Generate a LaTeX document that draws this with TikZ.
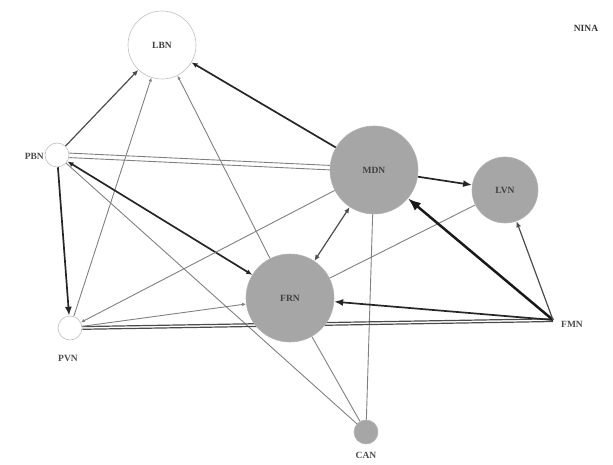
\documentclass[tikz,border=0pt]{standalone}
\usepackage{fontspec}
\setmainfont{Liberation Serif}
\usetikzlibrary{arrows.meta,backgrounds}
\begin{document}
\begin{tikzpicture}[x=1pt,y=-1pt,
  netnode/.style={circle,inner sep=0pt,font=\fontsize{9.5}{10}\selectfont\bfseries,text=black!75},
  whitenode/.style={netnode,fill=white,draw=black!25,line width=0.6pt},
  graynode/.style={netnode,fill=black!35,draw=black!30,line width=0.6pt},
  lab/.style={font=\fontsize{9.5}{10}\selectfont\bfseries,text=black!70,inner sep=1pt},
  tinyhead/.style={-{Latex[length=4pt,width=3.5pt]}},
  smallhead/.style={-{Latex[length=6pt,width=5pt]}},
  midhead/.style={-{Latex[length=9pt,width=7pt]}},
  bighead/.style={-{Latex[length=13pt,width=10pt]}},
  faint/.style={draw=black!50,line width=0.9pt},
  medium/.style={draw=black!70,line width=1.2pt},
  strong/.style={draw=black!85,line width=1.7pt},
  heavy/.style={draw=black!90,line width=2.5pt}]
\useasboundingbox (0,0) rectangle (613,465);
\node[whitenode,minimum size=68pt] (LBN) at (162,45) {LBN};
\node[whitenode,minimum size=24pt] (PBN) at (57,155) {};
\node[lab,anchor=east] (PBNl) at (45,156) {PBN};
\node[whitenode,minimum size=24pt] (PVN) at (70,328) {};
\node[lab] (PVNl) at (68,358) {PVN};
\node[graynode,minimum size=88pt] (MDN) at (374,170) {MDN};
\node[graynode,minimum size=66pt] (LVN) at (505,190) {LVN};
\node[graynode,minimum size=88pt] (FRN) at (290,298) {FRN};
\node[graynode,minimum size=24pt] (CAN) at (366,432) {};
\node[lab] (CANl) at (366,455) {CAN};
\coordinate (FMN) at (553,320);
\node[lab,anchor=west] (FMNl) at (560,324) {FMN};
\node[font=\fontsize{9.5}{10}\selectfont\bfseries,text=black!80] (NINA) at (586,28) {NINA};
\begin{scope}[on background layer]
  % plain connectors
  \draw[faint,transform canvas={yshift=-2pt}] (PBN) -- (MDN);
  \draw[faint,transform canvas={yshift=2.5pt}] (PBN) -- (MDN);
  \draw[faint] (PBN) -- (CAN);
  \draw[faint] (MDN) -- (CAN);
  \draw[faint] (FRN) -- (CAN);
  \draw[faint] (LVN) -- (FRN);
  \draw[medium,transform canvas={yshift=-1.5pt}] (PVN) -- (FMN);
  \draw[medium,transform canvas={yshift=1.2pt}] (PVN) -- (FMN);
  % arrows
  \draw[medium,smallhead] (PBN) -- (LBN);
  \draw[faint,tinyhead] (PVN) -- (LBN);
  \draw[faint,tinyhead] (FRN) -- (LBN);
  \draw[strong,smallhead] (MDN) -- (LBN);
  \draw[strong,{Latex[length=6pt,width=5pt]}-{Latex[length=6pt,width=5pt]}] (PBN) -- (FRN);
  \draw[strong,midhead] (PBN) -- (PVN);
  \draw[faint,tinyhead] (MDN) -- (PVN);
  \draw[faint,tinyhead] (PVN) -- (FRN);
  \draw[strong,midhead] (FMN) -- (FRN);
  \draw[heavy,bighead] (FMN) -- (MDN);
  \draw[medium,smallhead] (FMN) -- (LVN);
  \draw[strong,midhead] (MDN) -- (LVN);
  \draw[medium,{Latex[length=6pt,width=5pt]}-{Latex[length=6pt,width=5pt]}] (MDN) -- (FRN);
\end{scope}
\end{tikzpicture}
\end{document}
